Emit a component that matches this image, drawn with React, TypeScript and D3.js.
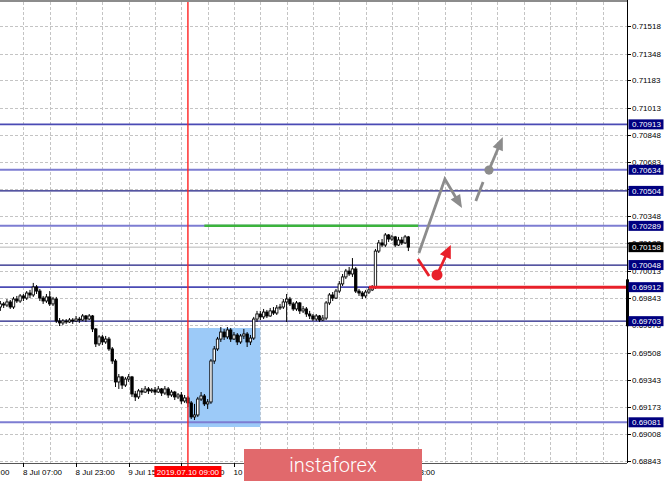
import React from "react";
import * as d3 from "d3";

const W = 665;
const H = 481;

// price axis labels (MT4 style)
const priceTicks = [
  0.71518, 0.71348, 0.71183, 0.71013, 0.70848, 0.70683, 0.70518, 0.70348, 0.70183,
  0.70013, 0.69843, 0.69678, 0.69508, 0.69343, 0.69173, 0.69008, 0.68843,
];
// labels fully covered by level boxes in the original
const hiddenPriceLabels = [0.70518];

// time labels, hours relative to 2019.07.10 09:00 (those under the banner are not shown)
const timeLabels = [
  "7 Jul 15:00", "8 Jul 07:00", "8 Jul 23:00", "9 Jul 15:00", "10 Jul 07:00",
  "10 Jul 23:00", "12 Jul 23:00",
];
const timeLabelHours = [-66, -50, -34, -18, -2, 14, 62];

const crossTimeLabel = "2019.07.10 09:00";
const crossHour = 0;

// H1 candles [open, high, low, close], first candle at hour -57
const firstHour = -57;
const candles: [number, number, number, number][] = [
  [0.6979, 0.69827, 0.69766, 0.69809],
  [0.69809, 0.69821, 0.69784, 0.69802],
  [0.69802, 0.69839, 0.6979, 0.69821],
  [0.69821, 0.69833, 0.69778, 0.6979],
  [0.6979, 0.69852, 0.69778, 0.69839],
  [0.69839, 0.69858, 0.69815, 0.69827],
  [0.69827, 0.6987, 0.69815, 0.69858],
  [0.69858, 0.6987, 0.69827, 0.69845],
  [0.69845, 0.69888, 0.69833, 0.69876],
  [0.69876, 0.69895, 0.69845, 0.69864],
  [0.69864, 0.69938, 0.69852, 0.69913],
  [0.69913, 0.69925, 0.6987, 0.69888],
  [0.69888, 0.69901, 0.69827, 0.69845],
  [0.69845, 0.69858, 0.69809, 0.69827],
  [0.69827, 0.6987, 0.69815, 0.69852],
  [0.69852, 0.69888, 0.69796, 0.69809],
  [0.69809, 0.69852, 0.69796, 0.69839],
  [0.69839, 0.69852, 0.69692, 0.69704],
  [0.69704, 0.69722, 0.69673, 0.69692],
  [0.69692, 0.69716, 0.69679, 0.69704],
  [0.69704, 0.69716, 0.69686, 0.69698],
  [0.69698, 0.69722, 0.69692, 0.6971],
  [0.6971, 0.69722, 0.69686, 0.69704],
  [0.69704, 0.69735, 0.69698, 0.69716],
  [0.69716, 0.69729, 0.69692, 0.6971],
  [0.6971, 0.69747, 0.69704, 0.69735],
  [0.69735, 0.69741, 0.69698, 0.69716],
  [0.69716, 0.69747, 0.6971, 0.69735],
  [0.69735, 0.69741, 0.69636, 0.69655],
  [0.69655, 0.69661, 0.69544, 0.69563],
  [0.69563, 0.69618, 0.6955, 0.69606],
  [0.69606, 0.69618, 0.69556, 0.69575],
  [0.69575, 0.69612, 0.69563, 0.69593],
  [0.69593, 0.69606, 0.6952, 0.69532],
  [0.69532, 0.69544, 0.6944, 0.69458],
  [0.69458, 0.6947, 0.69298, 0.69329],
  [0.69329, 0.69378, 0.69286, 0.6936],
  [0.6936, 0.69366, 0.69286, 0.6931],
  [0.6931, 0.6936, 0.69298, 0.69347],
  [0.69347, 0.69378, 0.69329, 0.6936],
  [0.6936, 0.69366, 0.69237, 0.69255],
  [0.69255, 0.69274, 0.69212, 0.69237],
  [0.69237, 0.69286, 0.69224, 0.69274],
  [0.69274, 0.69292, 0.69249, 0.69267],
  [0.69267, 0.69304, 0.69261, 0.69286],
  [0.69286, 0.69298, 0.69255, 0.69274],
  [0.69274, 0.69292, 0.69261, 0.6928],
  [0.6928, 0.69298, 0.69249, 0.69267],
  [0.69267, 0.69304, 0.69261, 0.69286],
  [0.69286, 0.69292, 0.69243, 0.69261],
  [0.69261, 0.69304, 0.69249, 0.69286],
  [0.69286, 0.69298, 0.69231, 0.69249],
  [0.69249, 0.6928, 0.69237, 0.69267],
  [0.69267, 0.69274, 0.69218, 0.69237],
  [0.69237, 0.69261, 0.69224, 0.69249],
  [0.69249, 0.69267, 0.69194, 0.69212],
  [0.69212, 0.69249, 0.692, 0.69231],
  [0.69231, 0.69243, 0.69175, 0.692],
  [0.692, 0.69212, 0.69101, 0.69114],
  [0.69114, 0.69194, 0.69095, 0.69126],
  [0.69126, 0.69237, 0.69114, 0.69224],
  [0.69224, 0.69267, 0.69212, 0.69243],
  [0.69243, 0.69255, 0.69181, 0.69194],
  [0.69194, 0.69224, 0.69163, 0.69206],
  [0.69206, 0.6947, 0.69194, 0.69458],
  [0.69458, 0.6955, 0.6944, 0.69532],
  [0.69532, 0.69606, 0.6952, 0.69593],
  [0.69593, 0.69667, 0.69575, 0.69636],
  [0.69636, 0.69655, 0.69587, 0.69606],
  [0.69606, 0.69667, 0.69593, 0.69649],
  [0.69649, 0.69661, 0.69575, 0.69593],
  [0.69593, 0.69636, 0.69587, 0.69618],
  [0.69618, 0.6963, 0.69556, 0.69575],
  [0.69575, 0.69624, 0.69563, 0.69612],
  [0.69612, 0.69655, 0.69593, 0.69624],
  [0.69624, 0.69636, 0.69544, 0.69575],
  [0.69575, 0.69618, 0.69556, 0.69599],
  [0.69599, 0.69729, 0.69587, 0.69716],
  [0.69716, 0.69766, 0.69698, 0.69747],
  [0.69747, 0.69766, 0.6971, 0.69729],
  [0.69729, 0.69778, 0.69716, 0.69759],
  [0.69759, 0.69772, 0.69722, 0.69735],
  [0.69735, 0.69784, 0.69729, 0.69766],
  [0.69766, 0.6979, 0.69741, 0.69753],
  [0.69753, 0.69802, 0.69741, 0.69784],
  [0.69784, 0.69809, 0.69772, 0.6979],
  [0.6979, 0.69839, 0.69778, 0.69821],
  [0.69821, 0.6987, 0.69698, 0.69839],
  [0.69839, 0.69852, 0.69796, 0.69809],
  [0.69809, 0.69821, 0.69766, 0.69778],
  [0.69778, 0.69827, 0.69766, 0.69815],
  [0.69815, 0.69821, 0.69747, 0.69766],
  [0.69766, 0.69796, 0.69753, 0.69778],
  [0.69778, 0.6979, 0.69729, 0.69747],
  [0.69747, 0.69766, 0.69716, 0.69735],
  [0.69735, 0.69747, 0.69704, 0.69716],
  [0.69716, 0.69747, 0.69704, 0.69735],
  [0.69735, 0.69741, 0.69698, 0.6971],
  [0.6971, 0.69741, 0.69704, 0.69722],
  [0.69722, 0.69827, 0.6971, 0.69815],
  [0.69815, 0.69876, 0.69802, 0.69864],
  [0.69864, 0.69882, 0.69827, 0.69845],
  [0.69845, 0.69901, 0.69839, 0.69888],
  [0.69888, 0.6995, 0.69876, 0.69932],
  [0.69932, 0.69993, 0.69919, 0.69975],
  [0.69975, 0.70024, 0.69962, 0.70011],
  [0.70011, 0.70036, 0.69981, 0.69993],
  [0.69993, 0.70091, 0.69975, 0.70024],
  [0.70024, 0.70036, 0.69876, 0.69888],
  [0.69888, 0.69901, 0.69858, 0.69876],
  [0.69876, 0.69888, 0.69839, 0.69858],
  [0.69858, 0.69895, 0.69845, 0.69882],
  [0.69882, 0.69913, 0.6987, 0.69895],
  [0.69895, 0.69925, 0.69888, 0.69913],
  [0.69913, 0.70147, 0.69901, 0.70134],
  [0.70134, 0.70202, 0.70122, 0.70184],
  [0.70184, 0.70208, 0.70159, 0.70171],
  [0.70171, 0.70245, 0.70159, 0.70233],
  [0.70233, 0.70239, 0.7019, 0.70208],
  [0.70208, 0.70233, 0.70196, 0.70221],
  [0.70221, 0.70227, 0.70159, 0.70171],
  [0.70171, 0.70221, 0.70165, 0.70202],
  [0.70202, 0.70221, 0.70171, 0.70184],
  [0.70184, 0.70233, 0.70177, 0.70221],
  [0.70221, 0.70227, 0.70134, 0.70158],
];

// support / resistance levels
const levelPrices = [0.70913, 0.70634, 0.70504, 0.70289, 0.70048, 0.69912, 0.69703, 0.69081];
const levelKinds = ["mid", "light", "dark", "light", "dark", "mid", "dark", "light"];
const bidPrice = 0.70158;

// blue range box (hours, prices)
const zoneHours = [0, 22];
const zonePrices = [0.69052, 0.69661];
// green line
const greenPrice = 0.70289;
const greenHours = [5, 70];
// red line
const redPrice = 0.69912;
const redHours = [55, 140];

// forecast drawings (hour, price)
const grayZigzag: [number, number][] = [[70.2, 0.70122], [78.1, 0.70577], [83.3, 0.70399]];
const grayDash: [number, number][] = [[87.5, 0.70442], [89.7, 0.70559]];
const grayDot: [number, number] = [91.5, 0.70632];
const grayArrowTip: [number, number] = [95.7, 0.70835];
const redDash: [number, number][] = [[69.9, 0.70085], [73.3, 0.69981]];
const redDot: [number, number] = [75.7, 0.69987];
const redArrowTip: [number, number] = [79.9, 0.70171];
// thick axis marker
const axisMarker = [0.69672, 0.6996];

const PLOT_R = 627;
const PLOT_B = 463;

const x = d3.scaleLinear().domain([-50, 126]).range([23.4, 602.5]);
const y = d3.scaleLinear().domain([0.68843, 0.71518]).range([461, 26]);

const fmt = d3.format(".5f");

function arrowHead(x1: number, y1: number, x2: number, y2: number, len: number, half: number) {
  const dx = x2 - x1, dy = y2 - y1;
  const d = Math.hypot(dx, dy);
  const ux = dx / d, uy = dy / d;
  const bx = x2 - ux * len, by = y2 - uy * len;
  const px = -uy, py = ux;
  return {
    poly: `${x2},${y2} ${bx + px * half},${by + py * half} ${bx - px * half},${by - py * half}`,
    bx: x2 - ux * (len - 2),
    by: y2 - uy * (len - 2),
  };
}

const levelStyle: Record<string, { c: string; w: number }> = {
  light: { c: "#7d7dd2", w: 2 },
  mid: { c: "#4a4ab4", w: 1.6 },
  dark: { c: "#1c1c82", w: 1.2 },
};

export default function App() {
  const vGrid = d3.range(-50, 134, 8);
  const FONT = "'Liberation Sans', Arial, sans-serif";

  const pt = (p: [number, number]) => [x(p[0]), y(p[1])] as [number, number];

  const gz = grayZigzag.map(pt);
  const gzHead = arrowHead(gz[1][0], gz[1][1], gz[2][0], gz[2][1], 13, 5.5);
  const gd = grayDash.map(pt);
  const gDot = pt(grayDot);
  const gTip = pt(grayArrowTip);
  const gHead = arrowHead(gDot[0], gDot[1], gTip[0], gTip[1], 13, 5.5);
  const rd = redDash.map(pt);
  const rDot = pt(redDot);
  const rTip = pt(redArrowTip);
  const rHead = arrowHead(rDot[0], rDot[1], rTip[0], rTip[1], 13, 6);

  const gray = "#8c8c8c";
  const red = "#e8202a";

  return (
    <svg
      width={W}
      height={H}
      style={{ position: "absolute", left: 0, top: 0, background: "#fff" }}
      fontFamily={FONT}
    >
      <rect x={0} y={0} width={W} height={H} fill="#fff" />
      {/* grid */}
      {priceTicks.map((p) => (
        <line key={"hg" + p} x1={0} x2={PLOT_R} y1={Math.round(y(p)) + 0.5} y2={Math.round(y(p)) + 0.5}
          stroke="#c4c4c4" strokeWidth={1} strokeDasharray="3,2" />
      ))}
      {vGrid.map((h) => (
        <line key={"vg" + h} x1={Math.round(x(h)) + 0.5} x2={Math.round(x(h)) + 0.5} y1={2} y2={PLOT_B}
          stroke="#c4c4c4" strokeWidth={1} strokeDasharray="3,2" />
      ))}

      {/* blue zone */}
      <rect x={x(zoneHours[0])} y={y(zonePrices[1])} width={x(zoneHours[1]) - x(zoneHours[0])}
        height={y(zonePrices[0]) - y(zonePrices[1])} fill="#9ccaf8" />

      {/* bid line */}
      <line x1={0} x2={PLOT_R} y1={y(bidPrice)} y2={y(bidPrice)} stroke="#b8b8b8" strokeWidth={1} />

      {/* levels */}
      {levelPrices.map((p, i) => {
        const s = levelStyle[levelKinds[i]];
        return <line key={"lv" + p} x1={0} x2={PLOT_R} y1={y(p)} y2={y(p)} stroke={s.c} strokeWidth={s.w} />;
      })}

      {/* candles */}
      {candles.map((c, i) => {
        const h = firstHour + i;
        const cx = x(h);
        const [o, hi, lo, cl] = c;
        const bull = cl >= o;
        const top = y(Math.max(o, cl));
        const bot = y(Math.min(o, cl));
        return (
          <g key={"c" + i}>
            <line x1={cx} x2={cx} y1={y(hi)} y2={y(lo)} stroke="#000" strokeWidth={1} />
            <rect x={cx - 1.2} y={top} width={2.4} height={Math.max(bot - top, 0.6)}
              fill={bull ? "#fff" : "#000"} stroke="#000" strokeWidth={0.85} />
          </g>
        );
      })}

      {/* green line */}
      <line x1={x(greenHours[0])} x2={x(greenHours[1])} y1={y(greenPrice)} y2={y(greenPrice)}
        stroke="#3cb43c" strokeWidth={2.5} />
      {/* red horizontal */}
      <line x1={x(redHours[0])} x2={PLOT_R} y1={y(redPrice)} y2={y(redPrice)} stroke={red} strokeWidth={3} />

      {/* red vertical crosshair */}
      <line x1={x(crossHour)} x2={x(crossHour)} y1={2} y2={466} stroke="#f22" strokeWidth={1.4} />

      {/* gray forecast */}
      <polyline points={`${gz[0][0]},${gz[0][1]} ${gz[1][0]},${gz[1][1]} ${gzHead.bx},${gzHead.by}`}
        fill="none" stroke={gray} strokeWidth={2.8} strokeLinejoin="miter" />
      <polygon points={gzHead.poly} fill={gray} />
      <line x1={gd[0][0]} y1={gd[0][1]} x2={gd[1][0]} y2={gd[1][1]} stroke={gray} strokeWidth={2.8} />
      <circle cx={gDot[0]} cy={gDot[1]} r={4.6} fill={gray} />
      <line x1={gDot[0]} y1={gDot[1]} x2={gHead.bx} y2={gHead.by} stroke={gray} strokeWidth={2.8} />
      <polygon points={gHead.poly} fill={gray} />

      {/* red forecast */}
      <line x1={rd[0][0]} y1={rd[0][1]} x2={rd[1][0]} y2={rd[1][1]} stroke={red} strokeWidth={2.8} />
      <circle cx={rDot[0]} cy={rDot[1]} r={5.5} fill={red} />
      <line x1={rDot[0]} y1={rDot[1]} x2={rHead.bx} y2={rHead.by} stroke={red} strokeWidth={2.8} />
      <polygon points={rHead.poly} fill={red} />

      {/* frame */}
      <line x1={0} x2={PLOT_R} y1={1} y2={1} stroke="#8c8c8c" strokeWidth={2} />
      <line x1={PLOT_R + 0.5} x2={PLOT_R + 0.5} y1={0} y2={PLOT_B} stroke="#000" strokeWidth={1} />
      <line x1={0} x2={PLOT_R} y1={PLOT_B + 0.5} y2={PLOT_B + 0.5} stroke="#555" strokeWidth={1} />
      <line x1={PLOT_R + 0.5} x2={PLOT_R + 0.5} y1={y(axisMarker[1])} y2={y(axisMarker[0])} stroke="#000" strokeWidth={3} />

      {/* price axis labels */}
      {priceTicks.map((p) => (
        <g key={"pt" + p}>
          <line x1={PLOT_R} x2={PLOT_R + 4} y1={Math.round(y(p)) + 0.5} y2={Math.round(y(p)) + 0.5} stroke="#000" />
          {hiddenPriceLabels.includes(p) ? null : (
            <text x={632} y={y(p) + 3} fontSize={8} fill="#000">{fmt(p)}</text>
          )}
        </g>
      ))}
      {levelPrices.map((p) => (
        <g key={"lb" + p}>
          <rect x={628.5} y={y(p) - 5} width={35} height={10} fill="#000080" />
          <text x={632} y={y(p) + 3} fontSize={8} fill="#fff">{fmt(p)}</text>
        </g>
      ))}
      <rect x={628.5} y={y(bidPrice) - 5} width={35} height={10} fill="#000" />
      <text x={632} y={y(bidPrice) + 3} fontSize={8} fill="#fff">{fmt(bidPrice)}</text>

      {/* time axis labels */}
      {timeLabels.map((t, i) => {
        const tx = x(timeLabelHours[i]);
        return (
          <g key={"tl" + t}>
            <line x1={Math.round(tx) + 0.5} x2={Math.round(tx) + 0.5} y1={PLOT_B} y2={PLOT_B + 4} stroke="#000" />
            <text x={tx - 0.5} y={475} fontSize={8} fill="#000">{t}</text>
          </g>
        );
      })}
      <rect x={x(crossHour) - 33.5} y={466} width={67} height={11} fill="#ff0000" />
      <text x={x(crossHour)} y={474.5} fontSize={8} fill="#fff" textAnchor="middle">{crossTimeLabel}</text>

      {/* watermark banner */}
      <rect x={244} y={449} width={178} height={34} fill="#e1696c" />
      <text x={333} y={472} fontSize={20} fill="#fff" textAnchor="middle"
        fontFamily="Roboto, 'Open Sans', sans-serif" fontWeight={300}>instaforex</text>
    </svg>
  );
}
